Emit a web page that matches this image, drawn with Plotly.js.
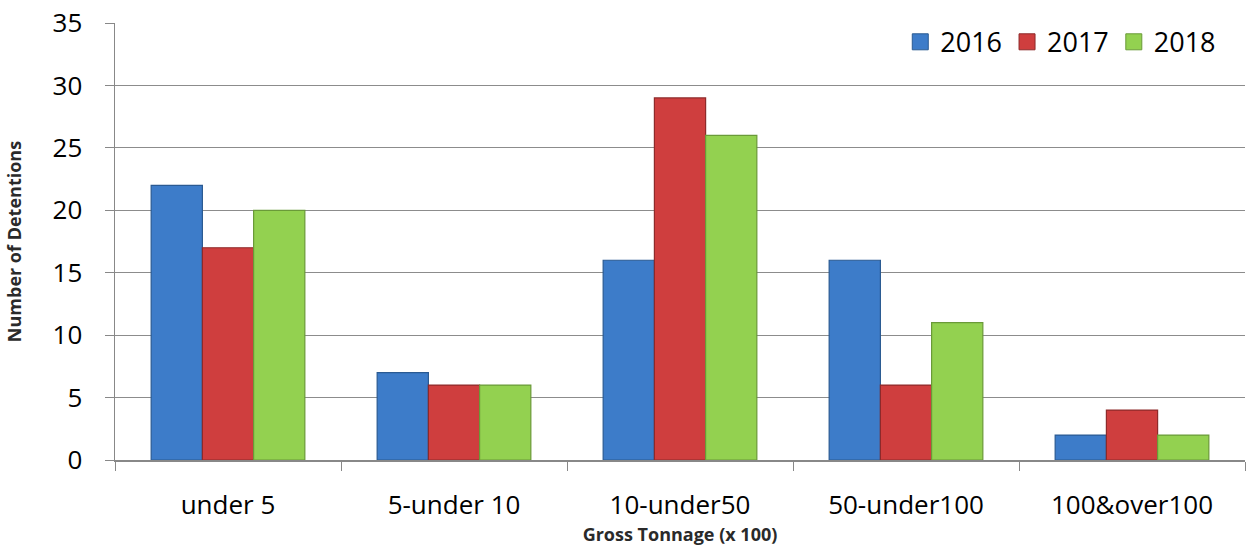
<!DOCTYPE html>
<html>
<head>
<meta charset="utf-8">
<script src="https://cdn.plot.ly/plotly-3.0.1.min.js"></script>
<style>html,body{margin:0;padding:0;background:#fff;}#chart{width:1254px;height:552px;}</style>
</head>
<body>
<div id="chart"></div>
<script>
const categories = ["under 5", "5-under 10", "10-under50", "50-under100", "100&over100"];
const seriesNames = ["2016", "2017", "2018"];
const values2016 = [22, 7, 16, 16, 2];
const values2017 = [17, 6, 29, 6, 4];
const values2018 = [20, 6, 26, 11, 2];
const yTicks = [0, 5, 10, 15, 20, 25, 30, 35];

const fills = ["#3d7cc9", "#cf3e3e", "#93d150"];
const edges = ["#2a5a92", "#8e2a2a", "#6a9a38"];
const allValues = [values2016, values2017, values2018];

const barTraces = allValues.map((v, i) => ({
  type: "bar",
  name: seriesNames[i],
  x: categories,
  y: v,
  showlegend: false,
  marker: {color: fills[i], line: {color: edges[i], width: 1.2}},
  hoverinfo: "x+y+name"
}));

// legend-only entries with larger square swatches
const legendTraces = seriesNames.map((n, i) => ({
  type: "scatter",
  mode: "markers",
  name: n,
  x: [null],
  y: [null],
  showlegend: true,
  marker: {symbol: "square", size: 16, color: fills[i], line: {color: edges[i], width: 1}}
}));

const tickFont = {size: 26, family: "Open Sans, sans-serif", color: "#000"};
const titleFont = {size: 18, family: "Open Sans, sans-serif", color: "#2a2a2a", weight: "bold"};

const layout = {
  width: 1254, height: 552,
  margin: {l: 115, r: 9, t: 23, b: 92},
  paper_bgcolor: "#fff", plot_bgcolor: "#fff",
  barmode: "group",
  bargap: 0.32, bargroupgap: 0,
  font: {family: "Open Sans, sans-serif", color: "#000"},
  xaxis: {
    type: "category",
    tickson: "boundaries",
    ticks: "outside", ticklen: 9, tickcolor: "#888", tickwidth: 1,
    ticklabelstandoff: 21,
    showline: true, linecolor: "#888", linewidth: 1.5,
    showgrid: false,
    automargin: false,
    tickfont: tickFont,
    title: {text: "Gross Tonnage (x 100)", font: titleFont, standoff: 6}
  },
  yaxis: {
    range: [0, 35],
    tickvals: yTicks,
    ticks: "outside", ticklen: 9, tickcolor: "#888", tickwidth: 1,
    ticklabelstandoff: 17,
    showline: true, linecolor: "#888", linewidth: 1.5,
    showgrid: true, gridcolor: "#8c8c8c", gridwidth: 1,
    zeroline: false,
    automargin: false,
    tickfont: tickFont,
    title: {text: "Number of Detentions", font: titleFont, standoff: 26}
  },
  legend: {
    orientation: "h",
    x: 0.979, xanchor: "right",
    y: 1.012, yanchor: "top",
    font: {size: 27, family: "Open Sans, sans-serif", color: "#000"},
    bgcolor: "rgba(255,255,255,0)",
    itemwidth: 30,
    traceorder: "normal"
  },
  showlegend: true
};

Plotly.newPlot("chart", barTraces.concat(legendTraces), layout, {displayModeBar: false, staticPlot: true});
</script>
</body>
</html>
